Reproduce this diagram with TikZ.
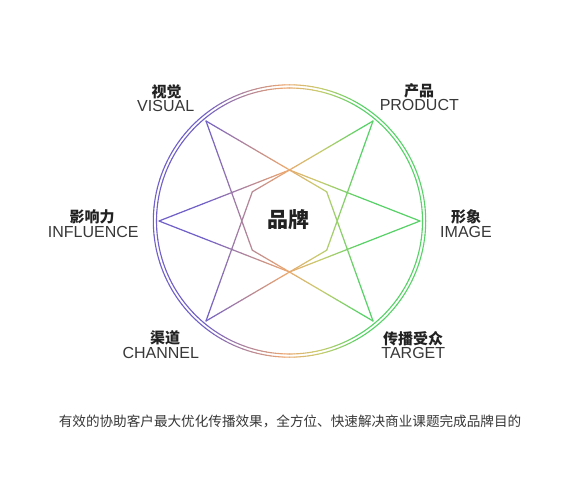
\documentclass[tikz,border=0pt]{standalone}
\usepackage{fontspec}
\setmainfont{Liberation Sans}
\newfontfamily\cjk{Noto Sans CJK SC}
\usetikzlibrary{calc}
\definecolor{gPur}{RGB}{112,96,200}
\definecolor{gOra}{RGB}{236,166,112}
\definecolor{gYel}{RGB}{200,204,110}
\definecolor{gGre}{RGB}{88,210,104}
\definecolor{txt}{RGB}{34,34,34}
\newdimen\gxd
\def\nseg{30}
\newcommand\gcol[1]{%
  \pgfmathsetmacro\gxA{#1}%
  \ifdim\gxA pt<205pt \colorlet{segc}{gPur}%
  \else\ifdim\gxA pt<285pt \pgfmathsetmacro\gpA{(\gxA-205)/80*100}\colorlet{segc}{gOra!\gpA!gPur}%
  \else\ifdim\gxA pt<320pt \pgfmathsetmacro\gpA{(\gxA-285)/35*100}\colorlet{segc}{gYel!\gpA!gOra}%
  \else\ifdim\gxA pt<360pt \pgfmathsetmacro\gpA{(\gxA-320)/40*100}\colorlet{segc}{gGre!\gpA!gYel}%
  \else \colorlet{segc}{gGre}\fi\fi\fi\fi}
\newcommand\gedge[2]{%
  \foreach \gi in {1,...,\nseg}{%
    \pgfmathsetmacro\gsA{(\gi-1)/\nseg}%
    \pgfmathsetmacro\geA{\gi/\nseg}%
    \pgfmathsetmacro\gmA{(\gi-0.5)/\nseg}%
    \path ($(#1)!\gmA!(#2)$) coordinate (gmid);%
    \pgfextractx{\gxd}{\pgfpointanchor{gmid}{center}}%
    \gcol{\gxd}%
    \draw[gline,draw=segc] ($(#1)!\gsA!(#2)$) -- ($(#1)!\geA!(#2)$);%
  }}
\begin{document}
\begin{tikzpicture}[x=1pt,y=-1pt,
  gline/.style={line width=1.2pt,line cap=round},
  cline/.style={line width=1.1pt,line cap=round},
  cnlab/.style={font=\cjk\bfseries\fontsize{15}{17}\selectfont,text=txt,anchor=base,inner sep=0pt},
  enlab/.style={font=\fontsize{16}{18}\selectfont,text=txt!90,anchor=base,inner sep=0pt},
  brand/.style={font=\cjk\bfseries\fontsize{21}{24}\selectfont,text=txt,anchor=base,inner sep=0pt},
  caption/.style={font=\cjk\fontsize{13.6}{16}\selectfont,text=txt!90,anchor=base,inner sep=0pt}]
\useasboundingbox (0,0) rectangle (580,486);
\fill[white] (0,0) rectangle (580,486);
% geometry
\coordinate (c) at (289.5,221);
\coordinate (TL) at (206,121);
\coordinate (TR) at (373,121);
\coordinate (R) at (420,221);
\coordinate (BR) at (373,321);
\coordinate (BL) at (206,321);
\coordinate (L) at (159,221);
\coordinate (T) at (289.5,170);
\coordinate (B) at (289.5,272);
\coordinate (UR) at (326.7,191.8);
\coordinate (LL) at (252.3,250.2);
\coordinate (UL) at (252.3,191.8);
\coordinate (LR) at (326.7,250.2);
% double circle
\foreach \a in {0,2,...,358}{%
  \pgfmathsetmacro\cxA{289.5+134.5*cos(\a+1)}%
  \gcol{\cxA}%
  \draw[cline,draw=segc] ($(c)+(\a:133)$) arc[start angle=\a,end angle=\a+2,radius=133];
  \draw[cline,draw=segc] ($(c)+(\a:136.2)$) arc[start angle=\a,end angle=\a+2,radius=136.2];
}
% rhombus
\gedge{L}{T}\gedge{T}{R}\gedge{R}{B}\gedge{B}{L}
% parallelogram 1
\gedge{TL}{UR}\gedge{UR}{BR}\gedge{BR}{LL}\gedge{LL}{TL}
% parallelogram 2
\gedge{TR}{UL}\gedge{UL}{BL}\gedge{BL}{LR}\gedge{LR}{TR}
% labels
\node[cnlab] (visc) at (166.5,97.5) {视觉};
\node[enlab] (vise) at (165.7,111.6) {VISUAL};
\node[cnlab] (proc) at (419,97) {产品};
\node[enlab] (proe) at (419.3,110.7) {PRODUCT};
\node[cnlab] (infc) at (92,222.5) {影响力};
\node[enlab] (infe) at (93.3,237.3) {INFLUENCE};
\node[cnlab] (imgc) at (466,222.5) {形象};
\node[enlab] (imge) at (466,237.3) {IMAGE};
\node[cnlab] (chac) at (165,343.5) {渠道};
\node[enlab] (chae) at (160.8,358.2) {CHANNEL};
\node[cnlab] (tarc) at (413,344) {传播受众};
\node[enlab] (tare) at (413.3,358.3) {TARGET};
\node[brand] (brand) at (288.5,227.5) {品牌};
\node[caption] (cap) at (290,426.5) {有效的协助客户最大优化传播效果，全方位、快速解决商业课题完成品牌目的};
\end{tikzpicture}
\end{document}
